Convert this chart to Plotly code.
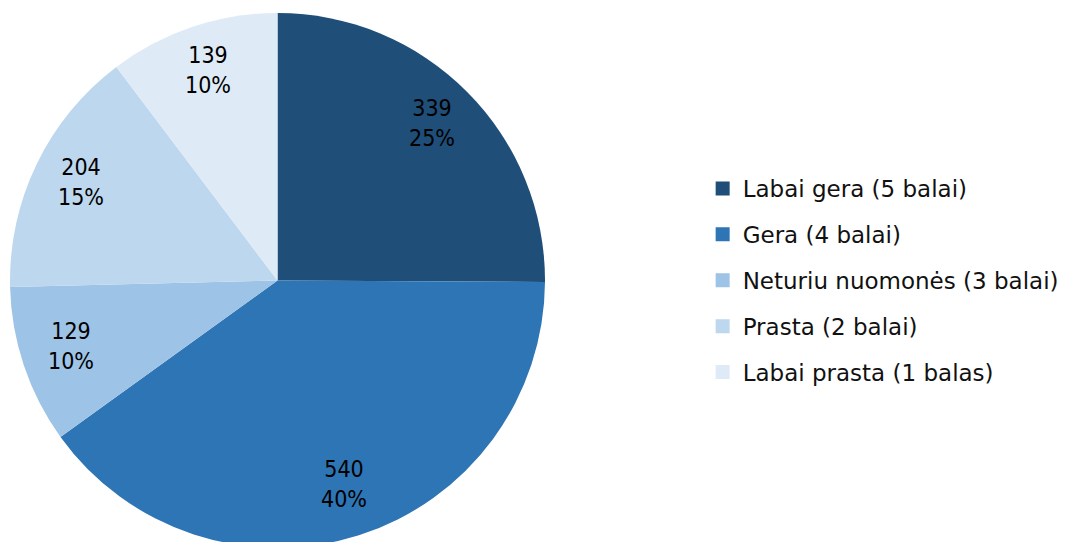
import math
import plotly.graph_objects as go

labels = ["Labai gera (5 balai)", "Gera (4 balai)", "Neturiu nuomonės (3 balai)",
          "Prasta (2 balai)", "Labai prasta (1 balas)"]
values = [339, 540, 129, 204, 139]
colors = ["#1F4E79", "#2E75B6", "#9DC3E6", "#BDD7EE", "#DEEBF7"]

W, H = 1072, 542
M_T, M_B = 5, 2
DOM_X = [0.0, 0.5028]
LABEL_R = 0.815  # fraction of radius where data labels sit

fig = go.Figure()
fig.add_trace(go.Pie(
    labels=labels, values=values, sort=False, direction="clockwise", rotation=0,
    marker=dict(colors=colors, line=dict(width=0)),
    textinfo="none",
    domain=dict(x=DOM_X, y=[0, 1]),
    showlegend=False, hoverinfo="label+value+percent",
))
for lab, col in zip(labels, colors):
    fig.add_trace(go.Scatter(
        x=[None], y=[None], mode="markers", name=lab, legendgroup=lab,
        marker=dict(symbol="square", size=14, color=col), showlegend=True,
    ))

# data labels placed along each slice bisector (computed from the values)
plot_h = H - M_T - M_B
dom_w = (DOM_X[1] - DOM_X[0]) * W
r_px = min(dom_w, plot_h) / 2
cx = (DOM_X[0] + DOM_X[1]) / 2
cy = 0.5
total = sum(values)
cum = 0
for v in values:
    mid = (cum + v / 2) / total * 2 * math.pi
    cum += v
    ax = cx + LABEL_R * r_px * math.sin(mid) / W
    ay = cy + LABEL_R * r_px * math.cos(mid) / plot_h
    fig.add_annotation(
        x=ax, y=ay, xref="paper", yref="paper", showarrow=False, yshift=4,
        text=f"{v}<br>{round(v / total * 100)}%",
        font=dict(family="DejaVu Sans Condensed, DejaVu Sans", size=23, color="black"),
        xanchor="center", yanchor="middle", align="center",
    )

fig.update_layout(
    width=W, height=H,
    margin=dict(l=0, r=0, t=M_T, b=M_B),
    paper_bgcolor="white", plot_bgcolor="white",
    xaxis=dict(visible=False), yaxis=dict(visible=False),
    legend=dict(x=0.648, y=0.5, xanchor="left", yanchor="middle",
                font=dict(family="DejaVu Sans", size=23, color="#111111"),
                tracegroupgap=13, itemwidth=30),
)
fig.write_html("out.html")
